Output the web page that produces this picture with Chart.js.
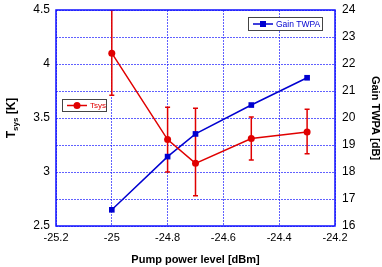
<!DOCTYPE html>
<html>
<head>
<meta charset="utf-8">
<script src="https://cdn.jsdelivr.net/npm/chart.js@4/dist/chart.umd.min.js"></script>
<style>
  html, body { margin: 0; padding: 0; background: #fff; }
  #wrap { width: 382px; height: 267px; }
</style>
</head>
<body>
<div id="wrap"><canvas id="chartTsys"></canvas></div>
<script>
const pumpLevels = [-25, -24.8, -24.7, -24.5, -24.3];
const tsys = [4.1, 3.3, 3.08, 3.31, 3.37];
const tsysLow = [3.71, 3.0, 2.78, 3.11, 3.17];
const tsysHigh = [4.5, 3.6, 3.59, 3.51, 3.58];
const gainTwpa = [16.6, 18.57, 19.41, 20.48, 21.49];
const xTicks = [-25.2, -25, -24.8, -24.6, -24.4, -24.2];
const tsysTicks = [2.5, 3, 3.5, 4, 4.5];
const gainTicks = [16, 17, 18, 19, 20, 21, 22, 23, 24];

const RED = '#e00000';
const BLUE = '#0000d0';
const GRID = 'rgba(30,30,255,0.7)';
const FONT = 'Liberation Sans, Arial, sans-serif';

Chart.defaults.font.family = FONT;
Chart.defaults.color = '#000';

// error bars, frame, manual legends and the left title with subscript
const extras = {
  id: 'extras',
  beforeDatasetsDraw(chart) {
    const ctx = chart.ctx;
    const x = chart.scales.x, y = chart.scales.y;
    const a = chart.chartArea;
    ctx.save();
    ctx.beginPath();
    ctx.rect(a.left, a.top, a.right - a.left, a.bottom - a.top);
    ctx.clip();
    ctx.strokeStyle = RED;
    ctx.lineWidth = 1.5;
    pumpLevels.forEach((p, i) => {
      const px = x.getPixelForValue(p);
      const lo = y.getPixelForValue(tsysLow[i]);
      const hi = y.getPixelForValue(tsysHigh[i]);
      ctx.beginPath();
      ctx.moveTo(px, lo); ctx.lineTo(px, hi);
      ctx.moveTo(px - 2.5, lo); ctx.lineTo(px + 2.5, lo);
      ctx.moveTo(px - 2.5, hi); ctx.lineTo(px + 2.5, hi);
      ctx.stroke();
    });
    ctx.restore();
  },
  afterDraw(chart) {
    const ctx = chart.ctx;
    const a = chart.chartArea;
    ctx.save();
    // frame
    ctx.strokeStyle = '#1010ff';
    ctx.lineWidth = 1.5;
    ctx.strokeRect(a.left, a.top, a.right - a.left, a.bottom - a.top);

    // legend boxes
    function legendBox(x0, y0, w, h, color, label, style, size) {
      ctx.fillStyle = '#fff';
      ctx.fillRect(x0, y0, w, h);
      ctx.strokeStyle = '#444';
      ctx.lineWidth = 1;
      ctx.strokeRect(x0 + 0.5, y0 + 0.5, w, h);
      const cy = y0 + h / 2 + 0.5;
      ctx.strokeStyle = color;
      ctx.lineWidth = 1.5;
      ctx.beginPath();
      ctx.moveTo(x0 + 5, cy); ctx.lineTo(x0 + 25, cy);
      ctx.stroke();
      ctx.fillStyle = color;
      if (style === 'circle') {
        ctx.beginPath();
        ctx.arc(x0 + 15, cy, 3.5, 0, Math.PI * 2);
        ctx.fill();
      } else {
        ctx.fillRect(x0 + 12, cy - 3, 6, 6);
      }
      ctx.font = size + 'px ' + FONT;
      ctx.textBaseline = 'middle';
      ctx.textAlign = 'left';
      ctx.fillText(label, x0 + 28, cy + 0.5);
    }
    legendBox(62, 99, 44, 12, RED, 'Tsys', 'circle', 8);
    legendBox(248, 17, 74, 13, BLUE, 'Gain TWPA', 'rect', 8.5);

    // left axis title: T_sys [K]
    ctx.translate(11, (a.top + a.bottom) / 2);
    ctx.rotate(-Math.PI / 2);
    ctx.fillStyle = '#000';
    ctx.textBaseline = 'alphabetic';
    ctx.textAlign = 'left';
    const big = 'bold 12px ' + FONT, small = 'bold 8px ' + FONT;
    ctx.font = big;
    const wT = ctx.measureText('T').width;
    const wK = ctx.measureText(' [K]').width;
    ctx.font = small;
    const wS = ctx.measureText('sys').width;
    let cx = -(wT + wS + wK) / 2;
    ctx.font = big;
    ctx.fillText('T', cx, 4);
    cx += wT;
    ctx.font = small;
    ctx.fillText('sys', cx, 7);
    cx += wS;
    ctx.font = big;
    ctx.fillText(' [K]', cx, 4);
    ctx.restore();
  }
};

function fitY(width) {
  return s => {
    s.width = width;
    s.paddingTop = 0;
    s.paddingBottom = 0;
  };
}

new Chart(document.getElementById('chartTsys'), {
  type: 'line',
  data: {
    datasets: [{
      label: 'Tsys',
      data: pumpLevels.map((p, i) => ({ x: p, y: tsys[i] })),
      yAxisID: 'y',
      borderColor: RED,
      backgroundColor: RED,
      borderWidth: 1.5,
      pointStyle: 'circle',
      pointRadius: 3.5,
      pointBorderWidth: 0,
      tension: 0
    }, {
      label: 'Gain TWPA',
      data: pumpLevels.map((p, i) => ({ x: p, y: gainTwpa[i] })),
      yAxisID: 'y2',
      borderColor: BLUE,
      backgroundColor: BLUE,
      borderWidth: 1.5,
      pointStyle: 'rect',
      pointRadius: 4,
      pointBorderWidth: 0,
      tension: 0
    }]
  },
  options: {
    responsive: true,
    maintainAspectRatio: false,
    animation: false,
    layout: { padding: { top: 10, left: 0, right: 0, bottom: 0 } },
    plugins: {
      legend: { display: false },
      tooltip: { enabled: false }
    },
    scales: {
      x: {
        type: 'linear',
        min: -25.2,
        max: -24.2,
        afterBuildTicks: s => { s.ticks = xTicks.map(v => ({ value: v })); },
        afterFit: s => { s.height = 41; },
        ticks: {
          padding: 5,
          font: { size: 11 },
          callback: v => v.toFixed(1).replace('-25.0', '-25')
        },
        grid: {
          color: GRID,
          lineWidth: 1,
          drawTicks: false
        },
        border: { display: false, dash: [2, 1] },
        title: {
          display: true,
          text: 'Pump power level [dBm]',
          font: { size: 11, weight: 'bold' },
          padding: { top: 8, bottom: 0 }
        }
      },
      y: {
        position: 'left',
        min: 2.5,
        max: 4.5,
        afterBuildTicks: s => { s.ticks = tsysTicks.map(v => ({ value: v })); },
        afterFit: fitY(56),
        ticks: {
          padding: 6,
          font: { size: 12 },
          callback: v => String(v)
        },
        grid: { display: false, drawTicks: false },
        border: { display: false }
      },
      y2: {
        position: 'right',
        min: 16,
        max: 24,
        afterBuildTicks: s => { s.ticks = gainTicks.map(v => ({ value: v })); },
        afterFit: fitY(47),
        ticks: {
          padding: 7,
          font: { size: 12 }
        },
        grid: {
          drawOnChartArea: true,
          drawTicks: false,
          color: GRID,
          lineWidth: 1
        },
        border: { display: false, dash: [2, 1] },
        title: {
          display: true,
          text: 'Gain TWPA [dB]',
          font: { size: 11, weight: 'bold' },
          padding: { top: 0, bottom: 2 }
        }
      }
    }
  },
  plugins: [extras]
});
</script>
</body>
</html>
